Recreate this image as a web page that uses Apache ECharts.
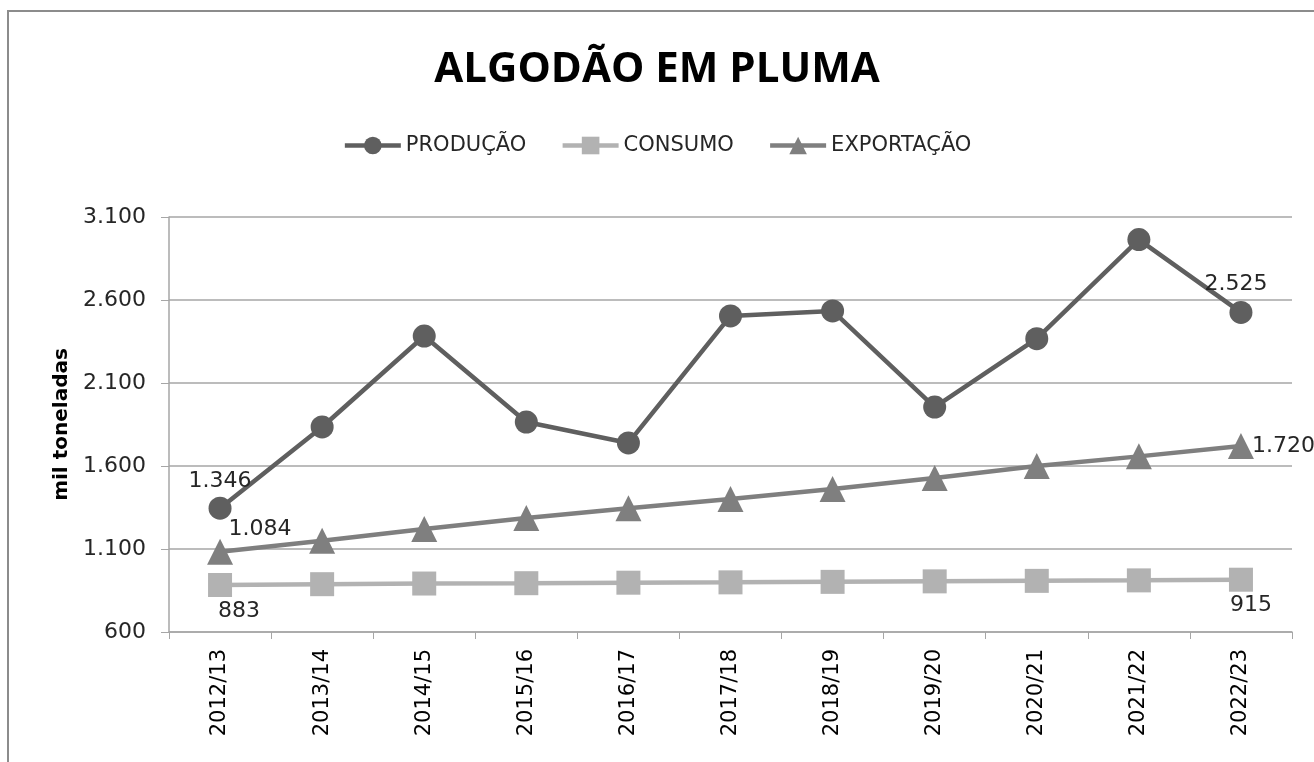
<!DOCTYPE html>
<html>
<head>
<meta charset="utf-8">
<script src="https://cdn.jsdelivr.net/npm/echarts@6/dist/echarts.min.js"></script>
<style>html,body{margin:0;padding:0;background:#fff}#c{width:1314px;height:762px}</style>
</head>
<body>
<div id="c"></div>
<script>
const categories = ['2012/13','2013/14','2014/15','2015/16','2016/17','2017/18','2018/19','2019/20','2020/21','2021/22','2022/23'];
const producao = [1346, 1835, 2383, 1865, 1739, 2504, 2534, 1955, 2367, 2964, 2525];
const consumo = [883, 888, 892, 894, 897, 899, 902, 905, 908, 911, 915];
const exportacao = [1084, 1150, 1220, 1287, 1345, 1401, 1461, 1528, 1600, 1658, 1720];
const yTicks = [600, 1100, 1600, 2100, 2600, 3100];
const seriesNames = ['PRODUÇÃO', 'CONSUMO', 'EXPORTAÇÃO'];

const fmt = v => String(v).replace(/\B(?=(\d{3})+(?!\d))/g, '.');
const labelFont = {fontFamily: 'DejaVu Sans', fontSize: 22, color: '#262626'};

function withLabels(values, first, last) {
  return values.map((v, i) => {
    if (i === 0 && first) return {value: v, label: Object.assign({show: true, formatter: p => fmt(p.value)}, labelFont, first)};
    if (i === values.length - 1 && last) return {value: v, label: Object.assign({show: true, formatter: p => fmt(p.value)}, labelFont, last)};
    return v;
  });
}

const chart = echarts.init(document.getElementById('c'), null, {renderer: 'canvas'});
chart.setOption({
  backgroundColor: '#fff',
  animation: false,
  graphic: [{
    type: 'rect', shape: {x: 8, y: 11, width: 1400, height: 800},
    style: {fill: 'none', stroke: '#8c8c8c', lineWidth: 2}, silent: true, z: -1
  }],
  title: {
    text: 'ALGODÃO EM PLUMA', left: 'center', top: 44,
    textStyle: {fontFamily: 'Open Sans', fontWeight: 'bold', fontSize: 42, color: '#000'}
  },
  legend: {
    top: 130, left: 'center', itemGap: 34, itemWidth: 56, itemHeight: 22,
    textStyle: {fontFamily: 'DejaVu Sans', fontSize: 21, color: '#262626'},
    lineStyle: {width: 4.5},
    data: seriesNames
  },
  grid: {left: 169, right: 22, top: 217, bottom: 130},
  xAxis: {
    type: 'category', data: categories, boundaryGap: true,
    axisLine: {lineStyle: {color: '#a6a6a6', width: 1.5}},
    axisTick: {show: true, interval: 0, length: 7, lineStyle: {color: '#a6a6a6'}},
    axisLabel: {rotate: 90, interval: 0, margin: 17, fontFamily: 'DejaVu Sans', fontSize: 21, color: '#000'}
  },
  yAxis: {
    type: 'value', min: 600, max: 3100, interval: 500,
    name: 'mil toneladas', nameLocation: 'middle', nameGap: 96, nameRotate: 90,
    nameTextStyle: {fontFamily: 'DejaVu Sans', fontWeight: 'bold', fontSize: 20, color: '#000'},
    axisLine: {show: true, lineStyle: {color: '#a6a6a6', width: 1.5}},
    axisTick: {show: true, length: 8, lineStyle: {color: '#a6a6a6'}},
    axisLabel: {fontFamily: 'DejaVu Sans', fontSize: 22, color: '#262626', margin: 23,
      formatter: v => yTicks.includes(v) ? fmt(v) : ''},
    splitLine: {lineStyle: {color: '#a6a6a6', width: 1.5}}
  },
  series: [
    {
      name: seriesNames[0], type: 'line', data: withLabels(producao, {position: 'top', distance: 4}, {position: 'top', distance: 6, offset: [-5, 0]}),
      symbol: 'circle', symbolSize: 23, color: '#5f5f5f',
      lineStyle: {width: 4.5, color: '#5f5f5f'}, itemStyle: {color: '#5f5f5f'}, z: 4
    },
    {
      name: seriesNames[1], type: 'line', data: withLabels(consumo, {position: 'bottom', distance: 3, offset: [19, 0]}, {position: 'bottom', distance: 3, offset: [10, 0]}),
      symbol: 'rect', symbolSize: 24, color: '#b2b2b2',
      lineStyle: {width: 4.5, color: '#b2b2b2'}, itemStyle: {color: '#b2b2b2'}, z: 2
    },
    {
      name: seriesNames[2], type: 'line', data: withLabels(exportacao, {position: 'top', distance: 0, offset: [40, 2]}, {position: 'right', distance: -2}),
      symbol: 'triangle', symbolSize: 26, color: '#7f7f7f',
      lineStyle: {width: 4.5, color: '#7f7f7f'}, itemStyle: {color: '#7f7f7f'}, z: 3
    }
  ]
});
</script>
</body>
</html>
